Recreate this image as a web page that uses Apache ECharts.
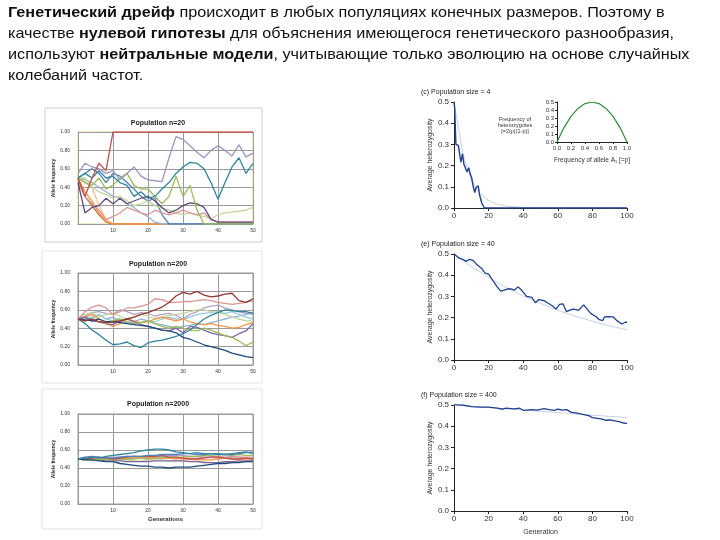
<!DOCTYPE html>
<html><head><meta charset="utf-8">
<script src="https://cdn.jsdelivr.net/npm/echarts@6/dist/echarts.min.js"></script>
<style>html,body{margin:0;padding:0;background:#fff}#c{width:720px;height:540px}</style>
</head><body><div id="c"></div>
<script>
// ---------- DATA ----------
var gens = [0,2,4,6,8,10,12,14,16,18,20,22,24,26,28,30,32,34,36,38,40,42,44,46,48,50];

// Population n=20
var p20_red      = [0.50,0.30,0.50,0.66,0.58,1,1,1,1,1,1,1,1,1,1,1,1,1,1,1,1,1,1,1,1,1];
var p20_orange   = [0.50,0.35,0.25,0.12,0.03,0,0,0,0,0,0,0,0,0,0,0,0,0,0,0,0,0,0,0,0,0];
var p20_brown    = [0.48,0.30,0.20,0.10,0.02,0,0,0,0,0,0,0,0,0,0,0,0,0,0,0,0,0,0,0,0,0];
var p20_peach    = [0.50,0.45,0.40,0.20,0.05,0,0,0,0,0,0,0,0,0,0,0,0,0,0,0,0,0,0,0,0,0];
var p20_lavender = [0.55,0.66,0.62,0.60,0.55,0.58,0.48,0.55,0.62,0.52,0.48,0.47,0.46,0.72,0.95,0.92,0.85,0.78,0.72,0.80,0.85,0.80,0.74,0.86,0.73,0.77];
var p20_teal     = [0.50,0.55,0.50,0.58,0.50,0.52,0.45,0.42,0.30,0.35,0.28,0.30,0.38,0.45,0.55,0.62,0.67,0.66,0.60,0.45,0.27,0.45,0.62,0.72,0.55,0.66];
var p20_olive    = [0.50,0.45,0.42,0.50,0.38,0.42,0.50,0.55,0.42,0.38,0.38,0.30,0.22,0.30,0.52,0.30,0.42,0.15,0,0,0,0,0,0,0,0];
var p20_purple   = [0.45,0.12,0.18,0.20,0.28,0.22,0.28,0.22,0.25,0.28,0.30,0.25,0.18,0.12,0.15,0.20,0.23,0.22,0.18,0.05,0.02,0.02,0.02,0.02,0.02,0.02];
var p20_pink     = [0.45,0.30,0.22,0.15,0.05,0.08,0.12,0.18,0.15,0.12,0.10,0.15,0.12,0.10,0.12,0.15,0.12,0.10,0.12,0.05,0.02,0.02,0.02,0.02,0.02,0.02];
var p20_lgreen   = [0.50,0.50,0.40,0.35,0.32,0.28,0.30,0.25,0.20,0.22,0.25,0.20,0.17,0.15,0.12,0.10,0.12,0.10,0.08,0.06,0.10,0.12,0.13,0.14,0.15,0.18];
var p20_blue     = [0.50,0.55,0.60,0.55,0.45,0.55,0.52,0.45,0.38,0.30,0.25,0.28,0.10,0,0,0,0,0,0,0,0,0,0,0,0,0];
var p20_lblue    = [0.50,0.48,0.45,0.40,0.35,0.30,0.28,0.22,0.18,0.12,0.08,0.02,0,0,0,0,0,0,0,0,0,0,0,0,0,0];

// Population n=200
var p200_dred    = [0.50,0.48,0.50,0.47,0.46,0.47,0.48,0.50,0.52,0.55,0.57,0.60,0.63,0.68,0.75,0.79,0.77,0.80,0.76,0.74,0.75,0.77,0.78,0.70,0.68,0.72];
var p200_pink    = [0.50,0.58,0.63,0.65,0.62,0.55,0.58,0.62,0.62,0.64,0.66,0.72,0.71,0.68,0.68,0.69,0.69,0.70,0.71,0.70,0.68,0.67,0.66,0.67,0.68,0.70];
var p200_teal    = [0.50,0.45,0.38,0.33,0.27,0.22,0.23,0.25,0.21,0.19,0.24,0.26,0.27,0.29,0.31,0.34,0.38,0.44,0.50,0.54,0.57,0.60,0.59,0.58,0.58,0.56];
var p200_dblue   = [0.50,0.49,0.48,0.50,0.47,0.47,0.46,0.45,0.44,0.43,0.42,0.40,0.38,0.37,0.35,0.30,0.28,0.25,0.22,0.20,0.18,0.16,0.13,0.11,0.09,0.08];
var p200_olive   = [0.50,0.48,0.50,0.47,0.45,0.48,0.50,0.47,0.45,0.46,0.48,0.45,0.42,0.40,0.42,0.40,0.38,0.37,0.40,0.38,0.35,0.32,0.30,0.26,0.21,0.25];
var p200_purple  = [0.50,0.52,0.48,0.47,0.45,0.44,0.48,0.50,0.47,0.44,0.42,0.40,0.38,0.37,0.40,0.35,0.42,0.41,0.38,0.35,0.33,0.32,0.30,0.34,0.37,0.45];
var p200_orange  = [0.50,0.52,0.55,0.50,0.45,0.42,0.45,0.50,0.48,0.46,0.47,0.50,0.52,0.50,0.48,0.50,0.47,0.45,0.44,0.45,0.43,0.42,0.40,0.41,0.44,0.46];
var p200_lgreen  = [0.50,0.55,0.57,0.52,0.55,0.56,0.53,0.50,0.52,0.55,0.53,0.50,0.52,0.54,0.55,0.56,0.58,0.60,0.60,0.58,0.57,0.55,0.52,0.50,0.48,0.48];
var p200_lavender= [0.50,0.53,0.57,0.58,0.56,0.55,0.60,0.58,0.55,0.57,0.56,0.53,0.55,0.56,0.54,0.50,0.55,0.58,0.62,0.64,0.65,0.62,0.60,0.58,0.56,0.55];
var p200_laqua   = [0.50,0.50,0.52,0.55,0.50,0.48,0.50,0.47,0.45,0.46,0.48,0.47,0.50,0.52,0.50,0.50,0.52,0.55,0.56,0.57,0.58,0.56,0.58,0.55,0.52,0.50];
var p200_lblue   = [0.50,0.52,0.50,0.55,0.50,0.52,0.48,0.46,0.47,0.50,0.48,0.45,0.44,0.42,0.40,0.42,0.43,0.45,0.44,0.46,0.48,0.50,0.52,0.53,0.55,0.57];

// Population n=2000
var p2000_teal   = [0.50,0.51,0.52,0.51,0.53,0.54,0.55,0.56,0.57,0.59,0.60,0.61,0.61,0.60,0.58,0.57,0.56,0.57,0.56,0.56,0.55,0.55,0.56,0.57,0.58,0.56];
var p2000_dblue  = [0.50,0.49,0.49,0.48,0.47,0.47,0.45,0.44,0.43,0.42,0.42,0.41,0.41,0.40,0.41,0.41,0.41,0.42,0.43,0.44,0.45,0.45,0.46,0.46,0.47,0.47];
var p2000_blue   = [0.50,0.52,0.53,0.52,0.51,0.51,0.52,0.53,0.53,0.53,0.54,0.54,0.55,0.55,0.55,0.56,0.56,0.55,0.55,0.56,0.56,0.55,0.55,0.56,0.57,0.58];
var p2000_red    = [0.50,0.50,0.51,0.52,0.51,0.50,0.51,0.52,0.53,0.53,0.53,0.53,0.54,0.52,0.52,0.51,0.50,0.50,0.51,0.52,0.52,0.51,0.50,0.50,0.51,0.50];
var p2000_olive  = [0.50,0.49,0.49,0.50,0.49,0.49,0.50,0.50,0.50,0.51,0.51,0.51,0.52,0.52,0.52,0.52,0.53,0.53,0.54,0.54,0.55,0.55,0.54,0.55,0.54,0.54];
var p2000_orange = [0.50,0.50,0.51,0.50,0.50,0.50,0.51,0.52,0.52,0.52,0.51,0.52,0.51,0.51,0.51,0.50,0.50,0.49,0.49,0.49,0.50,0.51,0.50,0.50,0.50,0.50];
var p2000_purple = [0.50,0.50,0.49,0.49,0.48,0.48,0.48,0.47,0.47,0.47,0.47,0.48,0.48,0.48,0.48,0.48,0.47,0.47,0.46,0.46,0.46,0.47,0.47,0.48,0.48,0.48];
var p2000_pink   = [0.50,0.51,0.50,0.50,0.51,0.51,0.50,0.50,0.51,0.51,0.50,0.51,0.51,0.51,0.50,0.51,0.51,0.51,0.52,0.52,0.53,0.52,0.53,0.52,0.52,0.52];
var p2000_lgreen = [0.50,0.50,0.49,0.49,0.49,0.50,0.49,0.49,0.48,0.48,0.49,0.49,0.49,0.48,0.48,0.48,0.47,0.47,0.47,0.46,0.46,0.46,0.46,0.47,0.47,0.47];
var p2000_lavender=[0.50,0.50,0.51,0.51,0.52,0.52,0.52,0.53,0.53,0.52,0.52,0.53,0.53,0.54,0.54,0.54,0.53,0.53,0.52,0.52,0.51,0.51,0.52,0.52,0.51,0.51];

// (c) Population size = 4
var cGen = [0,0.4,1.1,2.5,3.4,4,4.9,5.7,6.6,7.5,8.5,9.4,10.2,11,12,12.8,14,14.7,16,16.8,17.5,18.5,100];
var cHet = [0.5,0.47,0.30,0.295,0.287,0.216,0.255,0.208,0.20,0.17,0.19,0.16,0.144,0.105,0.073,0.097,0.105,0.065,0.025,0.03,0,0,0];
var cExpGen = [0,5,10,15,20,25,30,40,50,100];
var cExpHet = [0.5,0.26,0.13,0.07,0.035,0.018,0.009,0.002,0.001,0];
// inset
var insetP   = [0,0.1,0.2,0.3,0.4,0.5,0.6,0.7,0.8,0.9,1.0];
var insetHet = [0,0.18,0.32,0.42,0.48,0.5,0.48,0.42,0.32,0.18,0];

// (e) Population size = 40
var eGen = [0,3,5,7,9,11,13,16,18,20,21,23,25,27,29,31,33,35,37,39,42,45,47,49,52,54,57,59,61,63,65,67,69,72,75,77,79,82,84,86,87,89,92,94,97,99,100];
var eHet = [0.5,0.48,0.475,0.465,0.475,0.47,0.452,0.432,0.41,0.405,0.41,0.368,0.345,0.325,0.33,0.335,0.335,0.33,0.345,0.33,0.30,0.295,0.27,0.285,0.28,0.27,0.255,0.24,0.262,0.265,0.228,0.235,0.24,0.235,0.26,0.24,0.22,0.205,0.19,0.186,0.203,0.205,0.203,0.187,0.17,0.178,0.178];
var eExpGen = [0,10,20,30,40,50,60,70,80,90,100];
var eExpHet = [0.5,0.441,0.389,0.343,0.302,0.267,0.235,0.207,0.183,0.161,0.142];

// (f) Population size = 400
var fGen = [0,5,10,15,20,25,28,30,35,38,40,45,48,52,55,58,60,63,65,68,72,75,78,80,85,88,90,93,96,98,100];
var fHet = [0.502,0.5,0.492,0.49,0.49,0.485,0.48,0.485,0.482,0.485,0.475,0.478,0.476,0.483,0.478,0.475,0.48,0.476,0.478,0.465,0.46,0.455,0.45,0.44,0.435,0.428,0.43,0.425,0.42,0.415,0.413];
var fExpGen = [0,20,40,60,80,100];
var fExpHet = [0.5,0.488,0.476,0.464,0.452,0.441];

// ---------- BUILD ----------
function pairs(xs, ys){ return xs.map(function(x,i){ return [x, ys[i]]; }); }
var series = [];
function addLine(xi, xs, ys, color, w, z){
  series.push({type:'line', xAxisIndex:xi, yAxisIndex:xi, data:pairs(xs,ys), showSymbol:false, silent:true,
    lineStyle:{color:color, width:w}, z:z||2, animation:false});
}
var p20 = [[p20_peach,'#FAC090'],[p20_brown,'#C0702A'],[p20_orange,'#F79646'],[p20_lblue,'#95B3D7'],[p20_blue,'#4F81BD'],
  [p20_lgreen,'#C3D69B'],[p20_pink,'#D99694'],[p20_purple,'#604A7B'],[p20_olive,'#9BBB59'],[p20_teal,'#31859C'],
  [p20_lavender,'#A093BE'],[p20_red,'#C0504D']];
p20.forEach(function(s){ addLine(0, gens, s[0], s[1], 1.3); });
var p200 = [[p200_lblue,'#95B3D7'],[p200_laqua,'#93CDDD'],[p200_lavender,'#B3A2C7'],[p200_lgreen,'#C3D69B'],[p200_orange,'#F79646'],
  [p200_purple,'#8064A2'],[p200_olive,'#9BBB59'],[p200_dblue,'#1F497D'],[p200_teal,'#31859C'],[p200_pink,'#D99694'],[p200_dred,'#953735']];
p200.forEach(function(s){ addLine(1, gens, s[0], s[1], 1.3); });
var p2000 = [[p2000_lavender,'#B3A2C7'],[p2000_lgreen,'#C3D69B'],[p2000_pink,'#D99694'],[p2000_purple,'#8064A2'],[p2000_orange,'#F79646'],
  [p2000_olive,'#9BBB59'],[p2000_red,'#C0504D'],[p2000_blue,'#4F81BD'],[p2000_dblue,'#1F497D'],[p2000_teal,'#31859C']];
p2000.forEach(function(s){ addLine(2, gens, s[0], s[1], 1.3); });

addLine(3, cExpGen, cExpHet, '#B8C4DC', 0.8, 1);
addLine(3, cGen, cHet, '#1F3F8F', 1.4, 3);
addLine(4, insetP, insetHet, '#2E8B3A', 1.2, 3);
addLine(5, eExpGen, eExpHet, '#B8C4DC', 0.8, 1);
addLine(5, eGen, eHet, '#1F3F8F', 1.3, 3);
addLine(6, fExpGen, fExpHet, '#B8C4DC', 0.8, 1);
addLine(6, fGen, fHet, '#1F3F8F', 1.3, 3);

var FF = 'Liberation Sans, Arial, sans-serif';
var grids = [
  {left:78, top:132, width:175, height:92, show:true, borderColor:'#E8D78A', borderWidth:1},
  {left:78, top:273, width:175, height:92, show:true, borderColor:'#999', borderWidth:1},
  {left:78, top:414, width:175, height:90, show:true, borderColor:'#999', borderWidth:1},
  {left:454, top:102, width:173, height:106},
  {left:557, top:102, width:70, height:40},
  {left:454, top:254, width:173, height:106},
  {left:454, top:405, width:173, height:106}
];
function leftX(i, name){
  return {gridIndex:i, type:'value', min:0, max:50, interval:10,
    axisLine:{show:true, lineStyle:{color:'#999'}}, axisTick:{show:false},
    axisLabel:{fontSize:5, color:'#333', margin:4, fontFamily:FF, formatter:function(v){return v===0?'':String(v);}},
    splitLine:{show:true, lineStyle:{color:'#9a9a9a', width:1}},
    name:name||'', nameLocation:'middle', nameGap:12, nameTextStyle:{fontSize:6, fontWeight:'bold', color:'#333', fontFamily:FF}};
}
function leftY(i){
  return {gridIndex:i, type:'value', min:0, max:1, interval:0.2,
    axisLine:{show:true, lineStyle:{color:'#999'}}, axisTick:{show:false},
    axisLabel:{fontSize:5, color:'#333', margin:8, fontFamily:FF, formatter:function(v){return v.toFixed(2);}},
    splitLine:{show:true, lineStyle:{color:'#9a9a9a', width:1}},
    name:'Allele frequency', nameLocation:'middle', nameGap:22, nameTextStyle:{fontSize:5, fontWeight:'bold', color:'#333', fontFamily:FF}};
}
function rightX(i, name){
  return {gridIndex:i, type:'value', min:0, max:100, interval:20,
    axisLine:{show:true, lineStyle:{color:'#222', width:1}}, axisTick:{show:true, length:3, lineStyle:{color:'#222'}},
    axisLabel:{fontSize:8, color:'#333', margin:4, fontFamily:FF}, splitLine:{show:false},
    name:name||'', nameLocation:'middle', nameGap:18, nameTextStyle:{fontSize:7, color:'#333', fontFamily:FF}};
}
function rightY(i){
  return {gridIndex:i, type:'value', min:0, max:0.5, interval:0.1,
    axisLine:{show:true, lineStyle:{color:'#222', width:1}}, axisTick:{show:true, length:3, lineStyle:{color:'#222'}},
    axisLabel:{fontSize:8, color:'#333', margin:5, fontFamily:FF, formatter:function(v){return v.toFixed(1);}}, splitLine:{show:false},
    name:'Average heterozygosity', nameLocation:'middle', nameGap:20, nameTextStyle:{fontSize:7, color:'#333', fontFamily:FF}};
}
var xAxes = [leftX(0), leftX(1), leftX(2,'Generations'), rightX(3),
  {gridIndex:4, type:'value', min:0, max:1, interval:0.2,
   axisLine:{show:true, lineStyle:{color:'#222'}}, axisTick:{show:true, length:2},
   axisLabel:{fontSize:6, color:'#333', margin:3, fontFamily:FF, formatter:function(v){return v.toFixed(1);}}, splitLine:{show:false},
   name:'Frequency of allele A\u2081 [=p]', nameLocation:'middle', nameGap:15, nameTextStyle:{fontSize:6.5, color:'#333', fontFamily:FF}},
  rightX(5), rightX(6,'Generation')];
var yAxes = [leftY(0), leftY(1), leftY(2), rightY(3),
  {gridIndex:4, type:'value', min:0, max:0.5, interval:0.1,
   axisLine:{show:true, lineStyle:{color:'#222'}}, axisTick:{show:true, length:2},
   axisLabel:{fontSize:6, color:'#333', margin:3, fontFamily:FF, formatter:function(v){return v.toFixed(1);}}, splitLine:{show:false}},
  rightY(5), rightY(6)];

var para = '{b|Генетический дрейф} происходит в любых популяциях конечных размеров. Поэтому в\n' +
  'качестве {b|нулевой гипотезы} для объяснения имеющегося генетического разнообразия,\n' +
  'используют {b|нейтральные модели}, учитывающие только эволюцию на основе случайных\n' +
  'колебаний частот.';

var titles = [
  {left:153, top:115, textAlign:'center', text:'Population n=20', textStyle:{fontSize:7, fontWeight:'bold', color:'#222', fontFamily:FF}},
  {left:153, top:256, textAlign:'center', text:'Population n=200', textStyle:{fontSize:7, fontWeight:'bold', color:'#222', fontFamily:FF}},
  {left:153, top:396, textAlign:'center', text:'Population n=2000', textStyle:{fontSize:7, fontWeight:'bold', color:'#222', fontFamily:FF}},
  {left:416, top:84, text:'(c) Population size = 4', textStyle:{fontSize:7, fontWeight:'normal', color:'#222', fontFamily:FF}},
  {left:416, top:236, text:'(e) Population size = 40', textStyle:{fontSize:7, fontWeight:'normal', color:'#222', fontFamily:FF}},
  {left:416, top:387, text:'(f) Population size = 400', textStyle:{fontSize:7, fontWeight:'normal', color:'#222', fontFamily:FF}},
  {left:510, top:111, textAlign:'center', text:'Frequency of\nheterozygotes\n[=2(p)(1-p)]', textStyle:{fontSize:5.5, fontWeight:'normal', color:'#333', fontFamily:FF, lineHeight:6}}
];

var chart = echarts.init(document.getElementById('c'), null, {renderer:'canvas'});
chart.setOption({
  animation:false,
  backgroundColor:'#fff',
  title: titles,
  grid: grids,
  xAxis: xAxes,
  yAxis: yAxes,
  series: series,
  graphic: [
    {type:'text', x:8, y:2, scaleX:1.08, scaleY:1, silent:true,
     style:{text:para, fontSize:15, fontFamily:FF, fill:'#111', lineHeight:21, verticalAlign:'top', align:'left',
       rich:{b:{fontSize:15, fontWeight:'bold', fontFamily:FF, fill:'#111', lineHeight:21}}}},
    {type:'rect', shape:{x:45, y:108, width:217, height:134}, style:{fill:'none', stroke:'#cfcfcf', lineWidth:1}, silent:true, z:-1},
    {type:'rect', shape:{x:42, y:251, width:220, height:132}, style:{fill:'none', stroke:'#e2e2e2', lineWidth:1}, silent:true, z:-1},
    {type:'rect', shape:{x:42, y:389, width:220, height:140}, style:{fill:'none', stroke:'#e2e2e2', lineWidth:1}, silent:true, z:-1}
  ]
});
</script></body></html>
